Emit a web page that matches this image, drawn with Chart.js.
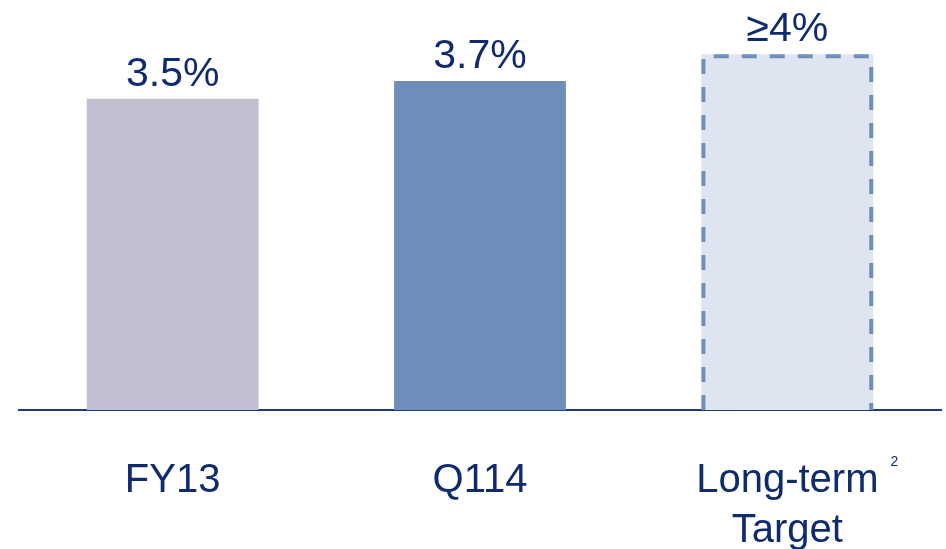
<!DOCTYPE html>
<html>
<head>
<meta charset="utf-8">
<script src="https://cdn.jsdelivr.net/npm/chart.js@4"></script>
<style>
  html, body { margin: 0; padding: 0; background: #fff; }
  #wrap { width: 946px; height: 549px; }
</style>
</head>
<body>
<div id="wrap"><canvas id="myChart"></canvas></div>
<script>
// chart data
var categories = [['FY13'], ['Q114'], ['Long-term', 'Target']];
var values = [3.5, 3.7, 4.0];
var valueLabels = ['3.5%', '3.7%', '\u22654%'];
var footnotes = ['', '', '2'];

var navy = '#0d2b6e';
var fills = ['#c0c0d0', '#6e8fba', '#dee5f0'];
var dashedBar = 2; // index of the target bar, drawn with a dashed outline

// value labels, dashed outline and footnote marker
var labelsPlugin = {
  id: 'labels',
  afterDatasetsDraw: function(chart) {
    var ctx = chart.ctx;
    var meta = chart.getDatasetMeta(0);
    ctx.save();

    // dashed outline on the target bar
    var b = meta.data[dashedBar];
    var half = b.width / 2;
    ctx.strokeStyle = '#7090bb';
    ctx.lineWidth = 4;
    ctx.setLineDash([15, 13]);
    ctx.beginPath();
    ctx.moveTo(b.x - half + 2, b.base);
    ctx.lineTo(b.x - half + 2, b.y + 2);
    ctx.lineTo(b.x + half - 2, b.y + 2);
    ctx.lineTo(b.x + half - 2, b.base);
    ctx.stroke();
    ctx.setLineDash([]);

    ctx.fillStyle = navy;
    ctx.font = '41px "Liberation Sans", Arial, sans-serif';
    ctx.textAlign = 'center';
    ctx.textBaseline = 'alphabetic';
    meta.data.forEach(function(bar, i) {
      ctx.fillText(valueLabels[i], bar.x, bar.y - 13);
    });

    // superscript footnote next to the first line of the tick label
    var xs = chart.scales.x;
    footnotes.forEach(function(f, i) {
      if (!f) return;
      ctx.font = '40px "Liberation Sans", Arial, sans-serif';
      var w = ctx.measureText(categories[i][0]).width;
      var x = xs.getPixelForTick(i) + w / 2 + 12;
      ctx.font = '14px "Liberation Sans", Arial, sans-serif';
      ctx.textAlign = 'left';
      ctx.fillText(f, x, 466);
    });
    ctx.restore();
  }
};

var ctx = document.getElementById('myChart').getContext('2d');
var myChart = new Chart(ctx, {
  type: 'bar',
  data: {
    labels: categories,
    datasets: [{
      data: values,
      backgroundColor: fills,
      borderWidth: 0,
      barPercentage: 1,
      categoryPercentage: 0.559
    }]
  },
  options: {
    responsive: true,
    maintainAspectRatio: false,
    animation: false,
    layout: { padding: { top: 1, left: 19, right: 5, bottom: 0 } },
    plugins: {
      legend: { display: false },
      tooltip: { enabled: false }
    },
    scales: {
      x: {
        grid: { display: false, drawTicks: false },
        border: { display: true, color: '#1f3a7a', width: 2 },
        ticks: {
          color: navy,
          padding: 46,
          font: { family: '"Liberation Sans", Arial, sans-serif', size: 40, lineHeight: 1.25 }
        },
        afterFit: function(scale) { scale.height = 139; }
      },
      y: {
        display: false,
        min: 0,
        max: 4.6
      }
    }
  },
  plugins: [labelsPlugin]
});
</script>
</body>
</html>
